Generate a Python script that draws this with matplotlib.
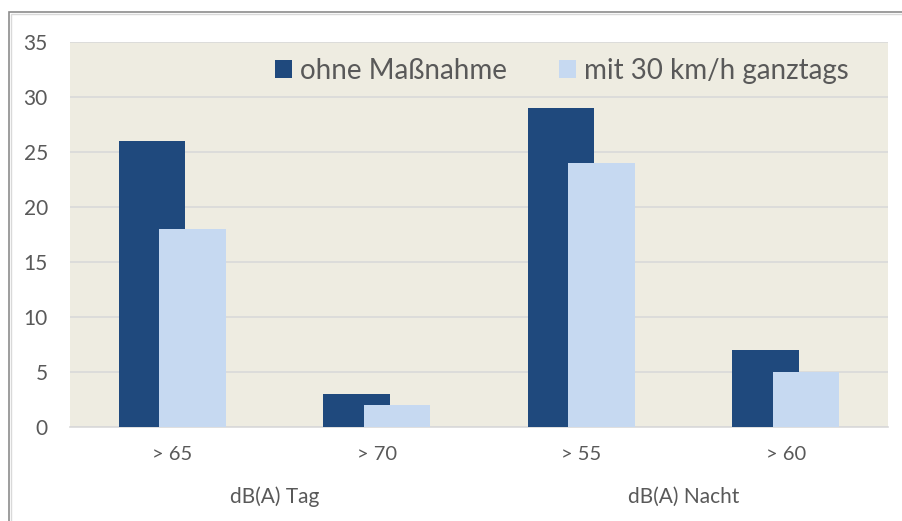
import matplotlib
matplotlib.use("Agg")
import matplotlib.pyplot as plt
import numpy as np
from matplotlib.patches import Rectangle

categories = ["> 65", "> 70", "> 55", "> 60"]
groups = ["dB(A) Tag", "dB(A) Nacht"]
series_names = ["ohne Maßnahme", "mit 30 km/h ganztags"]
ohne = [26, 3, 29, 7]
mit30 = [18, 2, 24, 5]
yticks = [0, 5, 10, 15, 20, 25, 30, 35]

plt.rcParams['font.family'] = ['Lato', 'DejaVu Sans']
txt = '#595959'

fig = plt.figure(figsize=(9.03, 5.21), dpi=100)
fig.patches.append(Rectangle((9/903, -0.1), 2, 1 - 12/521 + 0.1, transform=fig.transFigure,
                             fill=False, edgecolor='#8c8c8c', linewidth=1.2))
fig.patches.append(Rectangle((11/903, -0.1), 2, 1 - 14/521 + 0.1, transform=fig.transFigure,
                             fill=False, edgecolor='#d9d9d9', linewidth=1.0))
ax = fig.add_axes([70/903, 1 - 427/521, 818/903, 385/521])
ax.set_facecolor('#EEECE1')

x = np.arange(len(categories))
w = 0.325
off = 0.098
ax.bar(x - off, ohne, width=w, color='#1F497D', label=series_names[0], zorder=3)
ax.bar(x + off, mit30, width=w, color='#C6D9F1', label=series_names[1], zorder=4)

ax.set_xlim(-0.5, len(categories) - 0.5)
ax.set_ylim(0, 35)
ax.set_yticks(yticks)
ax.set_yticklabels([str(v) for v in yticks], fontsize=15, color=txt)
ax.set_xticks(x)
ax.set_xticklabels(categories, fontsize=14.5, color=txt)
ax.tick_params(axis='both', length=0)
ax.tick_params(axis='y', pad=16)
ax.tick_params(axis='x', pad=14)
ax.grid(axis='y', color='#d9d9d9', linewidth=1.2, zorder=1)
ax.set_axisbelow(True)
for s in ['top', 'right', 'left']:
    ax.spines[s].set_visible(False)
ax.spines['bottom'].set_color('#d9d9d9')
ax.spines['bottom'].set_linewidth(1.2)

for i, g in enumerate(groups):
    ax.text(2 * i + 0.5, -70/385 * 35, g, ha='center', va='center', fontsize=15, color=txt,
            transform=ax.transData, clip_on=False)

leg = ax.legend(loc='center', bbox_to_anchor=(0.601, 0.925), ncol=2, frameon=False,
                fontsize=20, handlelength=0.61, handleheight=0.61, handletextpad=0.29,
                columnspacing=1.87, labelcolor=txt)

fig.savefig('out.png', dpi=100)
